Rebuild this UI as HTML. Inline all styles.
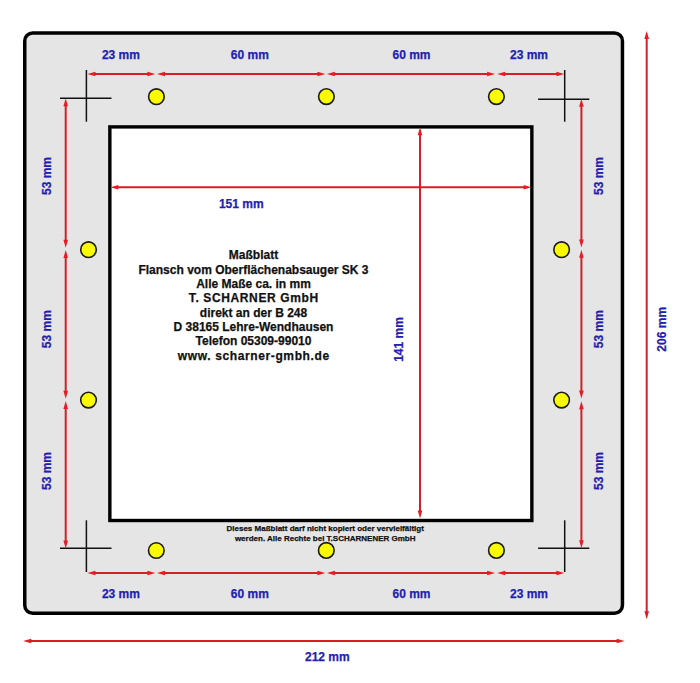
<!DOCTYPE html><html><head><meta charset="utf-8"><style>html,body{margin:0;padding:0;background:#fff;}svg{display:block;}text{font-family:"Liberation Sans",sans-serif;font-weight:bold;}</style></head><body>
<svg width="700" height="683" viewBox="0 0 700 683">
<rect x="0" y="0" width="700" height="683" fill="#fff"/>
<rect x="24.75" y="33" width="597.7" height="580.35" rx="8" ry="8" fill="#e5e5e5" stroke="#000" stroke-width="3.5"/>
<rect x="109.85" y="126.9" width="422" height="393.6" fill="#fff" stroke="#000" stroke-width="3.4"/>
<line x1="86.4" y1="70" x2="86.4" y2="121.7" stroke="#111" stroke-width="1.5"/>
<line x1="60" y1="98.3" x2="111.5" y2="98.3" stroke="#111" stroke-width="1.5"/>
<line x1="564.7" y1="70" x2="564.7" y2="121.7" stroke="#111" stroke-width="1.5"/>
<line x1="538.1" y1="99.3" x2="589.3" y2="99.3" stroke="#111" stroke-width="1.5"/>
<line x1="86.4" y1="520.3" x2="86.4" y2="572" stroke="#111" stroke-width="1.5"/>
<line x1="60" y1="548.3" x2="111.5" y2="548.3" stroke="#111" stroke-width="1.5"/>
<line x1="564.7" y1="520.3" x2="564.7" y2="572" stroke="#111" stroke-width="1.5"/>
<line x1="538.1" y1="548.2" x2="589.3" y2="548.2" stroke="#111" stroke-width="1.5"/>
<circle cx="156.4" cy="96.7" r="7.8" fill="#fafa00" stroke="#1a1a1a" stroke-width="1.6"/>
<circle cx="326.4" cy="96.6" r="7.8" fill="#fafa00" stroke="#1a1a1a" stroke-width="1.6"/>
<circle cx="496.4" cy="96.6" r="7.8" fill="#fafa00" stroke="#1a1a1a" stroke-width="1.6"/>
<circle cx="156.3" cy="550.5" r="7.8" fill="#fafa00" stroke="#1a1a1a" stroke-width="1.6"/>
<circle cx="326.3" cy="550.4" r="7.8" fill="#fafa00" stroke="#1a1a1a" stroke-width="1.6"/>
<circle cx="496.4" cy="550.4" r="7.8" fill="#fafa00" stroke="#1a1a1a" stroke-width="1.6"/>
<circle cx="88.5" cy="249.7" r="7.8" fill="#fafa00" stroke="#1a1a1a" stroke-width="1.6"/>
<circle cx="88.5" cy="400.1" r="7.8" fill="#fafa00" stroke="#1a1a1a" stroke-width="1.6"/>
<circle cx="561.6" cy="249.7" r="7.8" fill="#fafa00" stroke="#1a1a1a" stroke-width="1.6"/>
<circle cx="561.6" cy="400.1" r="7.8" fill="#fafa00" stroke="#1a1a1a" stroke-width="1.6"/>
<line x1="94.4" y1="74" x2="148.4" y2="74" stroke="#d22026" stroke-width="2.0"/>
<polygon points="87.4,74 95.4,71.7 95.4,76.3" fill="#ea1a22"/>
<polygon points="155.4,74 147.4,71.7 147.4,76.3" fill="#ea1a22"/>
<line x1="164.0" y1="74" x2="318.40000000000003" y2="74" stroke="#d22026" stroke-width="2.0"/>
<polygon points="157.0,74 165.0,71.7 165.0,76.3" fill="#ea1a22"/>
<polygon points="325.40000000000003,74 317.40000000000003,71.7 317.40000000000003,76.3" fill="#ea1a22"/>
<line x1="333.9" y1="74" x2="488.1" y2="74" stroke="#d22026" stroke-width="2.0"/>
<polygon points="326.9,74 334.9,71.7 334.9,76.3" fill="#ea1a22"/>
<polygon points="495.1,74 487.1,71.7 487.1,76.3" fill="#ea1a22"/>
<line x1="504.2" y1="74" x2="557.4" y2="74" stroke="#d22026" stroke-width="2.0"/>
<polygon points="497.2,74 505.2,71.7 505.2,76.3" fill="#ea1a22"/>
<polygon points="564.4,74 556.4,71.7 556.4,76.3" fill="#ea1a22"/>
<line x1="94.4" y1="573" x2="148.4" y2="573" stroke="#d22026" stroke-width="2.0"/>
<polygon points="87.4,573 95.4,570.7 95.4,575.3" fill="#ea1a22"/>
<polygon points="155.4,573 147.4,570.7 147.4,575.3" fill="#ea1a22"/>
<line x1="164.0" y1="573" x2="318.40000000000003" y2="573" stroke="#d22026" stroke-width="2.0"/>
<polygon points="157.0,573 165.0,570.7 165.0,575.3" fill="#ea1a22"/>
<polygon points="325.40000000000003,573 317.40000000000003,570.7 317.40000000000003,575.3" fill="#ea1a22"/>
<line x1="333.9" y1="573" x2="488.1" y2="573" stroke="#d22026" stroke-width="2.0"/>
<polygon points="326.9,573 334.9,570.7 334.9,575.3" fill="#ea1a22"/>
<polygon points="495.1,573 487.1,570.7 487.1,575.3" fill="#ea1a22"/>
<line x1="504.2" y1="573" x2="557.4" y2="573" stroke="#d22026" stroke-width="2.0"/>
<polygon points="497.2,573 505.2,570.7 505.2,575.3" fill="#ea1a22"/>
<polygon points="564.4,573 556.4,570.7 556.4,575.3" fill="#ea1a22"/>
<line x1="65.7" y1="105.2" x2="65.7" y2="240.79999999999998" stroke="#d22026" stroke-width="2.0"/>
<polygon points="65.7,98.2 63.400000000000006,106.2 68.0,106.2" fill="#ea1a22"/>
<polygon points="65.7,247.79999999999998 63.400000000000006,239.79999999999998 68.0,239.79999999999998" fill="#ea1a22"/>
<line x1="65.7" y1="257.0" x2="65.7" y2="391.8" stroke="#d22026" stroke-width="2.0"/>
<polygon points="65.7,250.0 63.400000000000006,258.0 68.0,258.0" fill="#ea1a22"/>
<polygon points="65.7,398.8 63.400000000000006,390.8 68.0,390.8" fill="#ea1a22"/>
<line x1="65.7" y1="408.0" x2="65.7" y2="541.6" stroke="#d22026" stroke-width="2.0"/>
<polygon points="65.7,401.0 63.400000000000006,409.0 68.0,409.0" fill="#ea1a22"/>
<polygon points="65.7,548.6 63.400000000000006,540.6 68.0,540.6" fill="#ea1a22"/>
<line x1="581.4" y1="105.80000000000001" x2="581.4" y2="240.4" stroke="#d22026" stroke-width="2.0"/>
<polygon points="581.4,98.80000000000001 579.1,106.80000000000001 583.6999999999999,106.80000000000001" fill="#ea1a22"/>
<polygon points="581.4,247.4 579.1,239.4 583.6999999999999,239.4" fill="#ea1a22"/>
<line x1="581.4" y1="256.8" x2="581.4" y2="391.6" stroke="#d22026" stroke-width="2.0"/>
<polygon points="581.4,249.8 579.1,257.8 583.6999999999999,257.8" fill="#ea1a22"/>
<polygon points="581.4,398.6 579.1,390.6 583.6999999999999,390.6" fill="#ea1a22"/>
<line x1="581.4" y1="408.2" x2="581.4" y2="541.2" stroke="#d22026" stroke-width="2.0"/>
<polygon points="581.4,401.2 579.1,409.2 583.6999999999999,409.2" fill="#ea1a22"/>
<polygon points="581.4,548.2 579.1,540.2 583.6999999999999,540.2" fill="#ea1a22"/>
<line x1="117.30000000000001" y1="187.3" x2="524.6" y2="187.3" stroke="#d22026" stroke-width="2.0"/>
<polygon points="110.30000000000001,187.3 118.30000000000001,185.0 118.30000000000001,189.60000000000002" fill="#ea1a22"/>
<polygon points="531.6,187.3 523.6,185.0 523.6,189.60000000000002" fill="#ea1a22"/>
<line x1="420" y1="134.2" x2="420" y2="511.6" stroke="#d22026" stroke-width="2.0"/>
<polygon points="420,127.2 417.7,135.2 422.3,135.2" fill="#ea1a22"/>
<polygon points="420,518.6 417.7,510.6 422.3,510.6" fill="#ea1a22"/>
<line x1="646.7" y1="38.099999999999994" x2="646.7" y2="612.2" stroke="#d22026" stroke-width="2.0"/>
<polygon points="646.7,31.099999999999998 644.4000000000001,39.099999999999994 649.0,39.099999999999994" fill="#ea1a22"/>
<polygon points="646.7,619.2 644.4000000000001,611.2 649.0,611.2" fill="#ea1a22"/>
<line x1="30.099999999999998" y1="641" x2="617.6" y2="641" stroke="#d22026" stroke-width="2.0"/>
<polygon points="23.099999999999998,641 31.099999999999998,638.7 31.099999999999998,643.3" fill="#ea1a22"/>
<polygon points="624.6,641 616.6,638.7 616.6,643.3" fill="#ea1a22"/>
<text x="120.9" y="59" font-size="12" fill="#1f1fb0" stroke="#1f1fb0" stroke-width="0.25" text-anchor="middle" >23 mm</text>
<text x="249.85" y="59" font-size="12" fill="#1f1fb0" stroke="#1f1fb0" stroke-width="0.25" text-anchor="middle" >60 mm</text>
<text x="411.5" y="59.2" font-size="12" fill="#1f1fb0" stroke="#1f1fb0" stroke-width="0.25" text-anchor="middle" >60 mm</text>
<text x="529" y="59.2" font-size="12" fill="#1f1fb0" stroke="#1f1fb0" stroke-width="0.25" text-anchor="middle" >23 mm</text>
<text x="120.9" y="597.6" font-size="12" fill="#1f1fb0" stroke="#1f1fb0" stroke-width="0.25" text-anchor="middle" >23 mm</text>
<text x="249.85" y="597.6" font-size="12" fill="#1f1fb0" stroke="#1f1fb0" stroke-width="0.25" text-anchor="middle" >60 mm</text>
<text x="411.5" y="597.6" font-size="12" fill="#1f1fb0" stroke="#1f1fb0" stroke-width="0.25" text-anchor="middle" >60 mm</text>
<text x="529" y="597.6" font-size="12" fill="#1f1fb0" stroke="#1f1fb0" stroke-width="0.25" text-anchor="middle" >23 mm</text>
<text x="241.3" y="207.6" font-size="12" fill="#1f1fb0" stroke="#1f1fb0" stroke-width="0.25" text-anchor="middle" >151 mm</text>
<text x="327.35" y="660.7" font-size="12" fill="#1f1fb0" stroke="#1f1fb0" stroke-width="0.25" text-anchor="middle" >212 mm</text>
<text transform="translate(51.1,176) rotate(-90)" x="0" y="0" font-size="12" fill="#1f1fb0" stroke="#1f1fb0" stroke-width="0.25" text-anchor="middle">53 mm</text>
<text transform="translate(603.1,176) rotate(-90)" x="0" y="0" font-size="12" fill="#1f1fb0" stroke="#1f1fb0" stroke-width="0.25" text-anchor="middle">53 mm</text>
<text transform="translate(51.1,329.2) rotate(-90)" x="0" y="0" font-size="12" fill="#1f1fb0" stroke="#1f1fb0" stroke-width="0.25" text-anchor="middle">53 mm</text>
<text transform="translate(603.1,329.2) rotate(-90)" x="0" y="0" font-size="12" fill="#1f1fb0" stroke="#1f1fb0" stroke-width="0.25" text-anchor="middle">53 mm</text>
<text transform="translate(51.1,471) rotate(-90)" x="0" y="0" font-size="12" fill="#1f1fb0" stroke="#1f1fb0" stroke-width="0.25" text-anchor="middle">53 mm</text>
<text transform="translate(603.1,471) rotate(-90)" x="0" y="0" font-size="12" fill="#1f1fb0" stroke="#1f1fb0" stroke-width="0.25" text-anchor="middle">53 mm</text>
<text transform="translate(403.4,339.5) rotate(-90)" x="0" y="0" font-size="12" fill="#1f1fb0" stroke="#1f1fb0" stroke-width="0.25" text-anchor="middle">141 mm</text>
<text transform="translate(666,329.3) rotate(-90)" x="0" y="0" font-size="12" fill="#1f1fb0" stroke="#1f1fb0" stroke-width="0.25" text-anchor="middle">206 mm</text>
<text x="253.5" y="259.4" font-size="12" fill="#111" stroke="#111" stroke-width="0.25" text-anchor="middle" >Maßblatt</text>
<text x="253.5" y="273.73" font-size="12" fill="#111" stroke="#111" stroke-width="0.25" text-anchor="middle" >Flansch vom Oberflächenabsauger SK 3</text>
<text x="253.5" y="288.06" font-size="12" fill="#111" stroke="#111" stroke-width="0.25" text-anchor="middle" >Alle Maße ca. in mm</text>
<text x="253.81" y="302.39" font-size="12" fill="#111" stroke="#111" stroke-width="0.25" text-anchor="middle" letter-spacing="0.62">T. SCHARNER GmbH</text>
<text x="253.5" y="316.72" font-size="12" fill="#111" stroke="#111" stroke-width="0.25" text-anchor="middle" >direkt an der B 248</text>
<text x="253.5" y="331.05" font-size="12" fill="#111" stroke="#111" stroke-width="0.25" text-anchor="middle" >D 38165 Lehre-Wendhausen</text>
<text x="253.5" y="345.38" font-size="12" fill="#111" stroke="#111" stroke-width="0.25" text-anchor="middle" >Telefon 05309-99010</text>
<text x="253.81" y="359.71" font-size="12" fill="#111" stroke="#111" stroke-width="0.25" text-anchor="middle" letter-spacing="0.62">www. scharner-gmbh.de</text>
<text x="325.2" y="531.4" font-size="8" fill="#111" stroke="#111" stroke-width="0.25" text-anchor="middle" >Dieses Maßblatt darf nicht kopiert oder vervielfältigt</text>
<text x="325.2" y="540.9" font-size="8" fill="#111" stroke="#111" stroke-width="0.25" text-anchor="middle" >werden. Alle Rechte bei T.SCHARNENER GmbH</text>
</svg></body></html>
